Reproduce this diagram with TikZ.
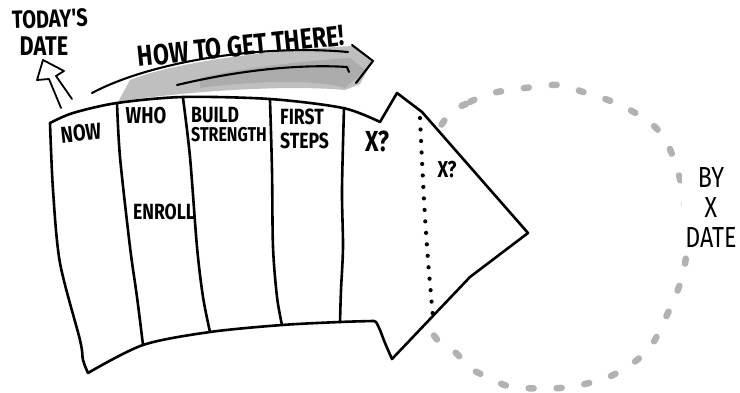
\documentclass[tikz,border=0pt]{standalone}
\usepackage{fontspec}
\setmainfont{Fira Sans}
\newfontfamily\handfont{Fira Sans}[FakeStretch=0.8]
\begin{document}
\begin{tikzpicture}[x=1pt,y=-1pt, line join=round, line cap=round,
  ink/.style={line width=2.6pt, black},
  thinink/.style={line width=2.1pt, black},
  hand/.style={inner sep=0pt, font=\handfont\bfseries\fontsize{#1}{#1}\selectfont},
  hand/.default=18,
  dashring/.style={gray!60, line width=6.5pt, dash pattern=on 5pt off 23pt},
]
\useasboundingbox (0,0) rectangle (740,393);

% dashed goal ring
\draw[dashring] plot[smooth cycle, tension=0.6] coordinates {
  (447,117)(470,102)(493,93)(525,88)(560,85)(583,92)(613,102)(642,117)(662,135)
  (676,165)(685,205)(687,240)(684,270)(677,292)(667,315)(653,343)(637,360)
  (613,375)(593,382)(560,388)(513,387)(490,378)(470,368)(456,353)(435,337)
  (420,300)(414,230)(425,160)};

% goal text
\node[fill=white, inner sep=3pt, align=center, font=\handfont\fontsize{29}{30}\selectfont] (goal) at (711,208) {BY\\X\\DATE};

% grey sweep of "how to get there"
\fill[gray!50] (118,102) .. controls (170,93) and (280,84) .. (345,90)
  -- (360,84) -- (372,62) -- (352,46) .. controls (280,50) and (180,60) .. (130,80) -- cycle;
\fill[gray!65] (200,88) .. controls (260,80) and (320,80) .. (345,88) -- (365,70)
  -- (350,58) .. controls (290,62) and (230,70) .. (200,78) -- cycle;
\coordinate (sweepA) at (92,93);
\coordinate (sweepB) at (348,52);
\coordinate (sweepC) at (177,85);
\coordinate (sweepD) at (347,67);
\coordinate (headA) at (352,45);
\coordinate (headT) at (373,61);
\coordinate (headB) at (356,83);
\draw[thinink] (sweepA) .. controls (150,62) and (260,44) .. (sweepB);
\draw[thinink] (sweepC) .. controls (240,70) and (300,64) .. (sweepD) -- (349,72);
\draw[thinink] (headA) -- (headT) -- (headB);
\node[hand=29, rotate=6] (how) at (241,46) {HOW TO GET THERE!};

% today's date with outline arrow
\node[hand=25, rotate=2] (today) at (50,19) {TODAY'S};
\node[hand=27] (date) at (44,46) {DATE};
\draw[thinink, line width=1.8pt] (61,108) -- (49,79) -- (37,80) -- (43,60) -- (64,71) -- (56,76) -- (72,99);

% main arrow body
\draw[ink, fill=white]
  plot[smooth] coordinates {(50,123)(73,113)(117,103)(183,97)(270,99)(343,108)(380,122)}
  -- (397,93) -- (422,112) -- (528,233) -- (470,277) -- (392,359)
  -- plot[smooth] coordinates {(392,359)(385,343)(380,330)(376,322)(373,321)}
  -- plot[smooth] coordinates {(373,321)(340,322)(282,325)(210,332)(143,345)(88,373)}
  -- plot[smooth] coordinates {(88,373)(83,360)(80,340)(60,263)(53,190)(50,123)}
  -- cycle;

% column dividers
\draw[ink] plot[smooth] coordinates {(117,103)(120,157)(130,247)(137,297)(143,345)};
\draw[ink] plot[smooth] coordinates {(183,98)(190,157)(197,247)(203,297)(210,332)};
\draw[ink] plot[smooth] coordinates {(270,100)(272,170)(273,247)(277,297)(282,325)};
\draw[ink] plot[smooth] coordinates {(344,108)(342,190)(343,247)(341,290)(340,322)};
\draw[black, line width=4.2pt, dash pattern=on 0pt off 11.5pt] plot[smooth] coordinates {(420,118)(424,200)(428,260)(433,317)};

% column labels
\node[hand=23, rotate=6] (now) at (81,133) {NOW};
\node[hand=23] (who) at (146,116) {WHO};
\node[hand=22, anchor=west] (build) at (191,115) {BUILD};
\node[hand=20, anchor=west] (strength) at (191,135) {STRENGTH};
\node[hand=22, anchor=west] (first) at (280,117) {FIRST};
\node[hand=22, anchor=west] (steps) at (280,141) {STEPS};
\node[hand=29] (x1) at (377,141) {X?};
\node[hand=23] (x2) at (447,170) {X?};
\node[hand=22] (enroll) at (164,212) {ENROLL};
\end{tikzpicture}
\end{document}
